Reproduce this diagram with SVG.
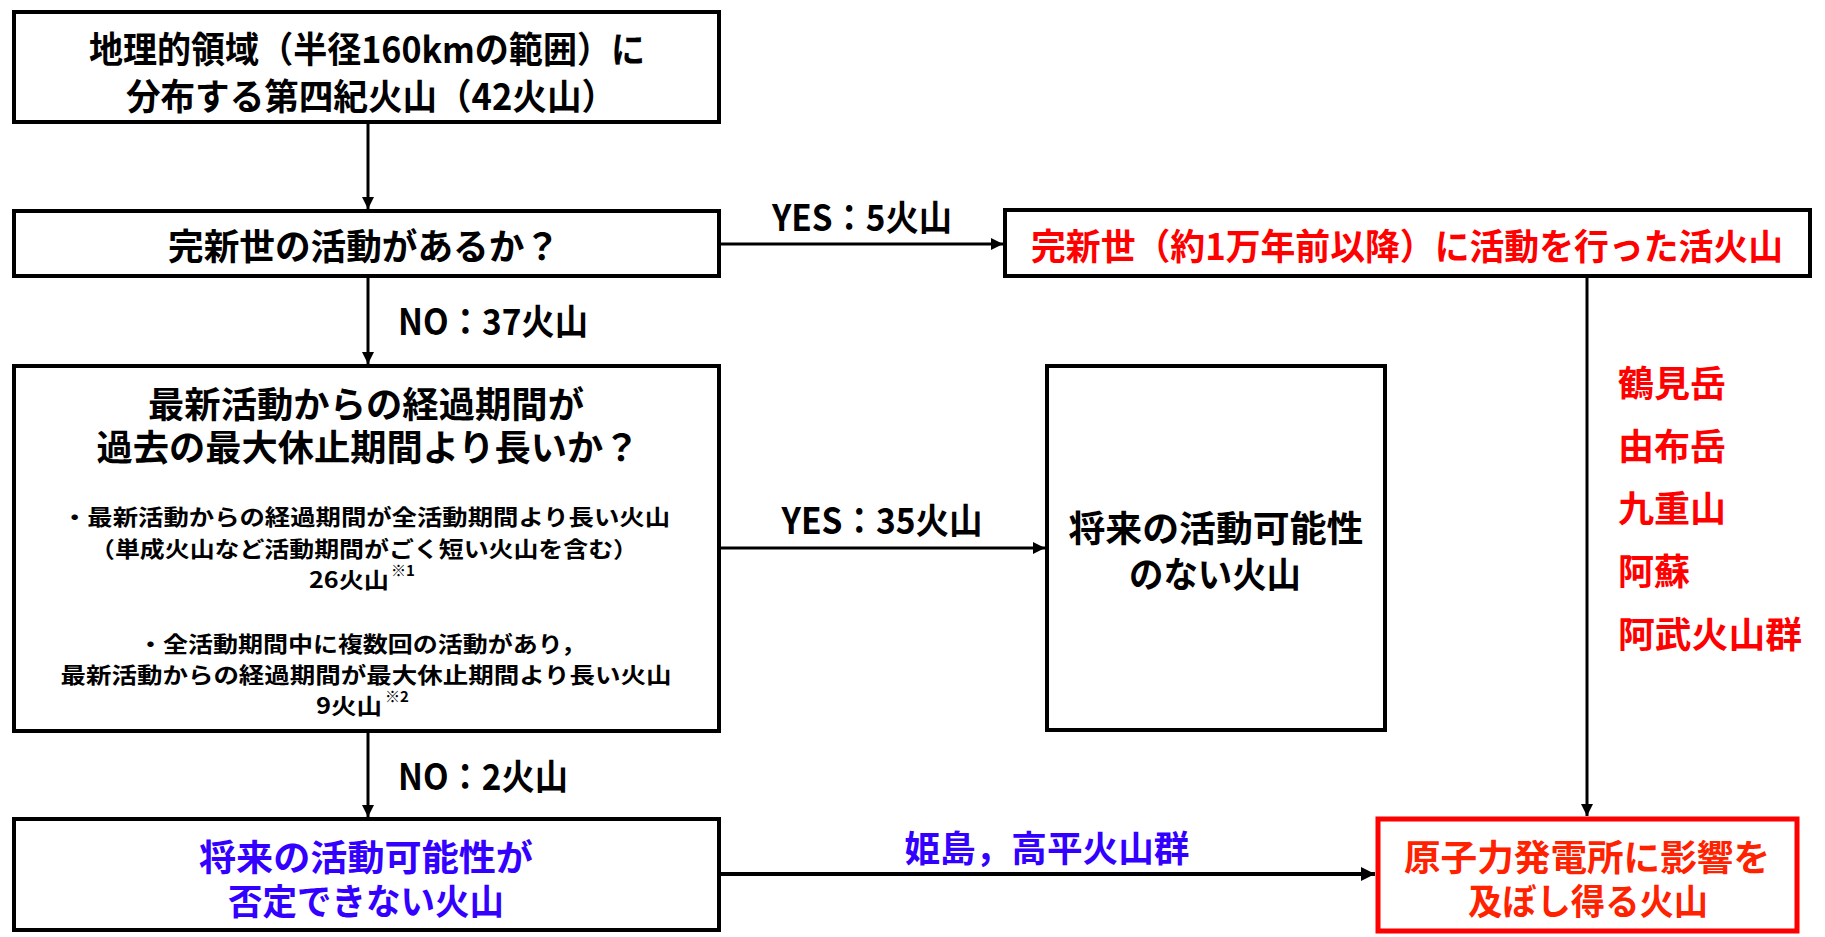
<svg xmlns="http://www.w3.org/2000/svg" width="1825" height="937" viewBox="0 0 1825 937">
<style>
text{font-family:"Noto Sans CJK JP","Noto Sans CJK SC",sans-serif;font-weight:700;dominant-baseline:central;text-anchor:middle;fill:#000}
.box{fill:#fff;stroke:#000;stroke-width:4}
.big{font-size:36px}
.sm{font-size:22px}
.red{fill:#ff0000}
.blue{fill:#3300ff}
.org{fill:#ff2200}
.conn{stroke:#000;stroke-width:3;fill:none}
</style>
<defs>
<marker id="ah" viewBox="0 0 12 12" refX="12" refY="6" markerWidth="12" markerHeight="12" markerUnits="userSpaceOnUse" orient="auto">
<path d="M0,0 L12,6 L0,12 z" fill="#000"/>
</marker>
<marker id="ah2" viewBox="0 0 14 14" refX="14" refY="7" markerWidth="14" markerHeight="14" markerUnits="userSpaceOnUse" orient="auto">
<path d="M0,0 L14,7 L0,14 z" fill="#000"/>
</marker>
</defs>
<rect width="1825" height="937" fill="#fff"/>
<g id="connectors">
<line class="conn" x1="368" y1="124" x2="368" y2="209" marker-end="url(#ah)"/>
<line class="conn" x1="721" y1="244" x2="1003" y2="244" marker-end="url(#ah)"/>
<line class="conn" x1="368" y1="278" x2="368" y2="364" marker-end="url(#ah)"/>
<line class="conn" x1="721" y1="548" x2="1045" y2="548" marker-end="url(#ah)"/>
<line class="conn" x1="368" y1="733" x2="368" y2="817" marker-end="url(#ah)"/>
<line class="conn" x1="1587" y1="278" x2="1587" y2="816" marker-end="url(#ah)"/>
<line class="conn" style="stroke-width:4" x1="721" y1="874" x2="1375" y2="874" marker-end="url(#ah2)"/>
<text class="big" x="862" y="215" textLength="180" lengthAdjust="spacingAndGlyphs">YES：5火山</text>
<text class="big" x="493" y="319" textLength="190" lengthAdjust="spacingAndGlyphs">NO：37火山</text>
<text class="big" x="882" y="518" textLength="201" lengthAdjust="spacingAndGlyphs">YES：35火山</text>
<text class="big" x="483" y="774" textLength="170" lengthAdjust="spacingAndGlyphs">NO：2火山</text>
<text class="big blue" x="1047" y="846" textLength="285" lengthAdjust="spacingAndGlyphs">姫島，高平火山群</text>
</g>
<g id="n1">
<rect class="box" x="14" y="12" width="705" height="110"/>
<text class="big" x="367" y="47" textLength="556" lengthAdjust="spacingAndGlyphs">地理的領域（半径160kmの範囲）に</text>
<text class="big" x="371" y="94" textLength="490" lengthAdjust="spacingAndGlyphs">分布する第四紀火山（42火山）</text>
</g>
<g id="n2">
<rect class="box" x="14" y="211" width="705" height="65"/>
<text class="big" x="364" y="244" textLength="392" lengthAdjust="spacingAndGlyphs">完新世の活動があるか？</text>
</g>
<g id="n3">
<rect class="box" x="14" y="366" width="705" height="365"/>
<text class="big" x="366" y="402" textLength="436" lengthAdjust="spacingAndGlyphs">最新活動からの経過期間が</text>
<text class="big" x="368" y="445" textLength="543" lengthAdjust="spacingAndGlyphs">過去の最大休止期間より長いか？</text>
<text class="sm" x="366" y="515" textLength="608" lengthAdjust="spacingAndGlyphs">・最新活動からの経過期間が全活動期間より長い火山</text>
<text class="sm" x="364" y="547" textLength="548" lengthAdjust="spacingAndGlyphs">（単成火山など活動期間がごく短い火山を含む）</text>
<text class="sm" x="309" y="578" style="text-anchor:start" textLength="80" lengthAdjust="spacingAndGlyphs">26火山</text>
<text style="font-size:15px;text-anchor:start" x="391" y="569">※1</text>
<text class="sm" x="362" y="642" textLength="448" lengthAdjust="spacingAndGlyphs">・全活動期間中に複数回の活動があり，</text>
<text class="sm" x="366" y="673" textLength="611" lengthAdjust="spacingAndGlyphs">最新活動からの経過期間が最大休止期間より長い火山</text>
<text class="sm" x="316" y="704" style="text-anchor:start" textLength="66" lengthAdjust="spacingAndGlyphs">9火山</text>
<text style="font-size:15px;text-anchor:start" x="385" y="695">※2</text>
</g>
<g id="n4">
<rect class="box" x="1047" y="366" width="338" height="364"/>
<text class="big" x="1216" y="526" textLength="295" lengthAdjust="spacingAndGlyphs">将来の活動可能性</text>
<text class="big" x="1215" y="572" textLength="172" lengthAdjust="spacingAndGlyphs">のない火山</text>
</g>
<g id="n5">
<rect class="box" x="1005" y="210" width="805" height="66"/>
<text class="big red" x="1407" y="244" textLength="752" lengthAdjust="spacingAndGlyphs">完新世（約1万年前以降）に活動を行った活火山</text>
</g>
<g id="volcano-list">
<text class="big red" x="1618" y="381" style="text-anchor:start">鶴見岳</text>
<text class="big red" x="1618" y="444" style="text-anchor:start">由布岳</text>
<text class="big red" x="1618" y="506" style="text-anchor:start">九重山</text>
<text class="big red" x="1618" y="569" style="text-anchor:start">阿蘇</text>
<text class="big red" x="1618" y="632" style="text-anchor:start" textLength="184" lengthAdjust="spacingAndGlyphs">阿武火山群</text>
</g>
<g id="n6">
<rect class="box" x="14" y="819" width="705" height="111"/>
<text class="big blue" x="366" y="855" textLength="334" lengthAdjust="spacingAndGlyphs">将来の活動可能性が</text>
<text class="big blue" x="366" y="899" textLength="276" lengthAdjust="spacingAndGlyphs">否定できない火山</text>
</g>
<g id="n7">
<rect class="box" style="stroke:#ff0000;stroke-width:5" x="1378" y="819" width="419" height="112"/>
<text class="big org" x="1587" y="855" textLength="366" lengthAdjust="spacingAndGlyphs">原子力発電所に影響を</text>
<text class="big org" x="1588" y="899" textLength="240" lengthAdjust="spacingAndGlyphs">及ぼし得る火山</text>
</g>
</svg>
